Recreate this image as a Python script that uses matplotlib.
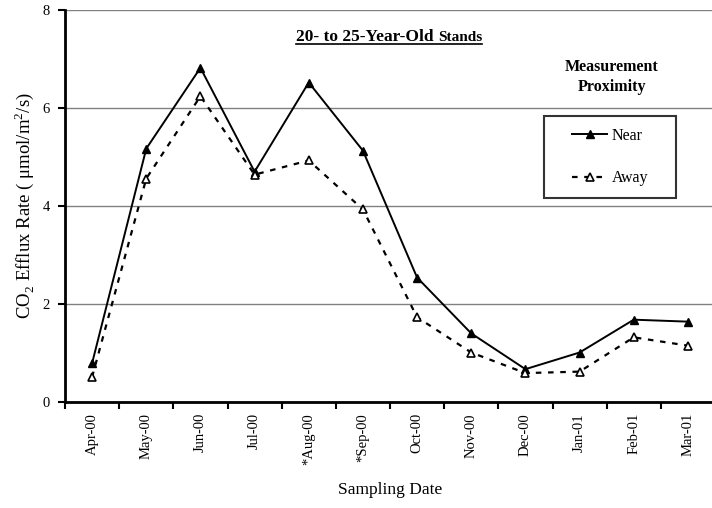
import matplotlib
matplotlib.use("Agg")
import matplotlib.pyplot as plt
import numpy as np
from matplotlib.lines import Line2D
from matplotlib.legend_handler import HandlerLine2D

plt.rcParams['font.family'] = ['Liberation Serif', 'DejaVu Serif']
plt.rcParams['mathtext.fontset'] = 'custom'
plt.rcParams['mathtext.rm'] = 'Liberation Serif'

months = ["Apr-00", "May-00", "Jun-00", "Jul-00", "*Aug-00", "*Sep-00", "Oct-00",
          "Nov-00", "Dec-00", "Jan-01", "Feb-01", "Mar-01"]
near = [0.79, 5.17, 6.82, 4.70, 6.52, 5.13, 2.54, 1.40, 0.67, 1.01, 1.68, 1.64]
away = [0.51, 4.56, 6.24, 4.64, 4.93, 3.93, 1.73, 1.01, 0.59, 0.62, 1.32, 1.15]
yticks = [0, 2, 4, 6, 8]

fig = plt.figure(figsize=(7.12, 5.08), dpi=100)
ax = fig.add_axes([65/712, 1-402/508, 650/712, 392/508])

x = np.arange(len(months))
ax.plot(x, near, color='black', lw=1.4, marker='^', ms=6, mfc='black', mec='black', label='Near', zorder=3)
ax.plot(x, away, color='black', lw=1.6, ls=(0, (2.5, 3)), marker='^', ms=6, mfc='white', mec='black',
        mew=1.2, label='Away', zorder=3)

ax.set_xlim(-0.5, len(months) - 0.5)
ax.set_ylim(0, 8)
ax.set_yticks(yticks)
ax.set_yticklabels([str(v) for v in yticks], fontsize=10.5)
ax.yaxis.grid(True, color='#808080', lw=1)
ax.set_axisbelow(True)

ax.set_xticks(x)
ax.set_xticklabels(months, rotation=90, fontsize=10.5)
ax.set_xticks(np.arange(-0.5, len(months), 1), minor=True)
ax.tick_params(axis='x', which='major', length=0, pad=8)
ax.tick_params(axis='x', which='minor', length=5, width=1.5, direction='out')
ax.tick_params(axis='y', length=5, width=1.5, direction='out', pad=6)

for s in ['right', 'top']:
    ax.spines[s].set_visible(False)
for s in ['left', 'bottom']:
    ax.spines[s].set_linewidth(2)

ax.set_ylabel("CO$_2$ Efflux Rate ( \u03bcmol/m$^2$/s)", fontsize=13.5, labelpad=5)
ax.set_xlabel("Sampling Date", fontsize=12.5, labelpad=12)

# title underlined (two sizes)
fig.canvas.draw()
r = fig.canvas.get_renderer()
t1 = fig.text(0, 1-41/508, "20- to 25-Year-Old ", fontsize=12.5, fontweight='bold', ha='left', va='baseline')
t2 = fig.text(0, 1-41/508, "Stands", fontsize=11, fontweight='bold', ha='left', va='baseline')
w1 = t1.get_window_extent(r).width / 712
w2 = t2.get_window_extent(r).width / 712
x0 = 389/712 - (w1 + w2) / 2
t1.set_x(x0)
t2.set_x(x0 + w1)
y_line = 1 - 44/508
fig.add_artist(Line2D([x0, x0 + w1 + w2], [y_line, y_line], color='black', lw=1.2,
                      transform=fig.transFigure))

fig.text(612/712, 1-77/508, "Measurement\nProximity", fontsize=11.5, fontweight='bold',
         ha='center', va='center', linespacing=1.35)

hm = {Line2D: HandlerLine2D(xpad=1.0)}
leg = ax.legend(loc='upper left',
                bbox_to_anchor=((544-65)/650, 1-(116-10)/392, 132/650, 0.0),
                mode='expand', fontsize=11.5, handler_map=hm,
                frameon=True, fancybox=False, edgecolor='black', handlelength=3.2,
                handletextpad=0.3, labelspacing=1.65, borderpad=0.75, borderaxespad=0)
leg.get_frame().set_linewidth(1.5)

fig.savefig("out.png", dpi=100)
